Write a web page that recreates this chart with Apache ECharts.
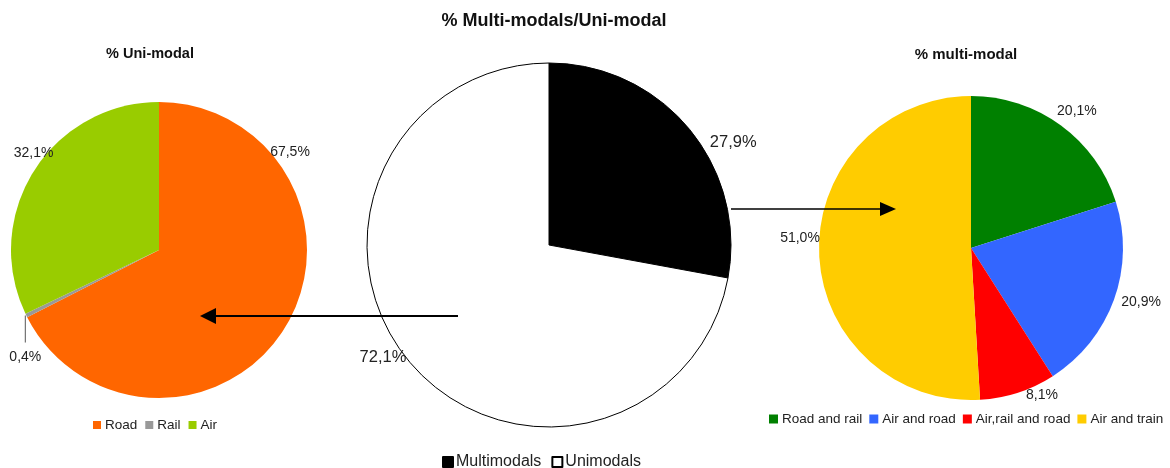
<!DOCTYPE html>
<html><head><meta charset="utf-8">
<script src="https://cdn.jsdelivr.net/npm/echarts@6/dist/echarts.min.js"></script>
<style>html,body{margin:0;padding:0;background:#fff}#c{width:1170px;height:468px}</style>
</head><body><div id="c"></div>
<script>
const uniCategories = ['Road', 'Rail', 'Air'];
const uniValues = [67.5, 0.4, 32.1];
const mainCategories = ['Multimodals', 'Unimodals'];
const mainValues = [27.9, 72.1];
const multiCategories = ['Road and rail', 'Air and road', 'Air,rail and road', 'Air and train'];
const multiValues = [20.1, 20.9, 8.1, 51.0];

const uniColors = ['#FF6600', '#999999', '#99CC00'];
const mainColors = ['#000000', '#FFFFFF'];
const multiColors = ['#008000', '#3366FF', '#FF0000', '#FFCC00'];

const FONT = 'Liberation Sans, Arial, sans-serif';
// pie geometry (layout)
const geo = [
  { cx: 159, cy: 250, r: 148, font: 14 },
  { cx: 549, cy: 245, r: 182, font: 16.5 },
  { cx: 971, cy: 248, r: 152, font: 14 }
];
// label placement: [angle clockwise from 12 o'clock, distance from centre] per slice (layout only)
const labelPlacement = [
  [[53.2, 163.6], null, [307.7, 158.6]],
  [[60.8, 211], [235.8, 200.8]],
  [[37.7, 173.2], [107.6, 178.4], [154.2, 163.2], [273.3, 171.3]]
];

function fmt(p) { return p.value.toFixed(1).replace('.', ',') + '%'; }

function layout(params) {
  const si = params.seriesIndex, di = params.dataIndex;
  const g = geo[si];
  const pl = labelPlacement[si][di];
  if (!pl) {
    // small slice: label below a vertical leader line from the slice's mid-edge
    const vals = [uniValues, mainValues, multiValues][si];
    const tot = vals.reduce((a, b) => a + b, 0);
    let s = 0;
    for (let k = 0; k < di; k++) s += vals[k];
    const a = (s + vals[di] / 2) / tot * 2 * Math.PI;
    const ex = g.cx + g.r * Math.sin(a), ey = g.cy - g.r * Math.cos(a);
    return { x: ex - 1, y: ey + 42, align: 'center', verticalAlign: 'middle',
      labelLinePoints: [[ex - 1, ey], [ex - 1, ey + 27], [ex - 1, ey + 27]] };
  }
  const rad = pl[0] * Math.PI / 180;
  return { x: g.cx + pl[1] * Math.sin(rad), y: g.cy - pl[1] * Math.cos(rad), align: 'center', verticalAlign: 'middle' };
}

function makeData(cats, vals, colors, extra) {
  return cats.map((n, i) => Object.assign({ name: n, value: vals[i], itemStyle: { color: colors[i] } }, extra ? extra(i) : {}));
}

function pie(idx, data, itemStyle) {
  const g = geo[idx];
  return {
    type: 'pie', center: [g.cx, g.cy], radius: g.r, startAngle: 90, clockwise: true,
    avoidLabelOverlap: false, animation: false, emphasis: { disabled: true },
    data: data, itemStyle: itemStyle,
    label: { show: true, position: 'outside', formatter: fmt, fontSize: g.font, color: '#222', fontFamily: FONT },
    labelLine: { show: false, lineStyle: { color: '#555', width: 1 } },
    labelLayout: layout
  };
}

const chart = echarts.init(document.getElementById('c'));
chart.setOption({
  backgroundColor: '#fff',
  animation: false,
  title: [
    { text: '% Multi-modals/Uni-modal', left: 549, top: 7, textAlign: 'center', textStyle: { fontSize: 18, fontWeight: 'bold', fontFamily: FONT, color: '#111' } },
    { text: '% Uni-modal', left: 145, top: 41, textAlign: 'center', textStyle: { fontSize: 14.5, fontWeight: 'bold', fontFamily: FONT, color: '#111' } },
    { text: '% multi-modal', left: 961, top: 42, textAlign: 'center', textStyle: { fontSize: 15, fontWeight: 'bold', fontFamily: FONT, color: '#111' } }
  ],
  legend: [
    { data: uniCategories, left: 88, top: 413, icon: 'rect', itemWidth: 8, itemHeight: 8, itemGap: 8,
      textStyle: { fontSize: 13.5, fontFamily: FONT, color: '#222', padding: [0, 0, 0, -1] } },
    { data: mainCategories, left: 437, top: 449, icon: 'rect', itemWidth: 10, itemHeight: 10, itemGap: 10,
      textStyle: { fontSize: 16, fontFamily: FONT, color: '#222', padding: [0, 0, 0, -2] } },
    { data: multiCategories, left: 769, top: 412, width: 500, padding: 0, icon: 'rect', itemWidth: 9, itemHeight: 9, itemGap: 7,
      textStyle: { fontSize: 13.5, fontFamily: FONT, color: '#222', padding: [0, 0, 0, -1] } }
  ],
  series: [
    pie(0, makeData(uniCategories, uniValues, uniColors, i => i === 1 ? { labelLine: { show: true } } : {}), { borderWidth: 0 }),
    pie(1, makeData(mainCategories, mainValues, mainColors), { borderColor: '#000', borderWidth: 1 }),
    pie(2, makeData(multiCategories, multiValues, multiColors), { borderWidth: 0 })
  ],
  graphic: [
    { type: 'line', z: 100, shape: { x1: 458, y1: 316, x2: 214, y2: 316 }, style: { stroke: '#000', lineWidth: 2 } },
    { type: 'polygon', z: 100, shape: { points: [[200, 316], [216, 308], [216, 324]] }, style: { fill: '#000' } },
    { type: 'line', z: 100, shape: { x1: 731, y1: 209, x2: 882, y2: 209 }, style: { stroke: '#000', lineWidth: 1.3 } },
    { type: 'polygon', z: 100, shape: { points: [[896, 209], [880, 202], [880, 216]] }, style: { fill: '#000' } }
  ]
});
</script></body></html>
